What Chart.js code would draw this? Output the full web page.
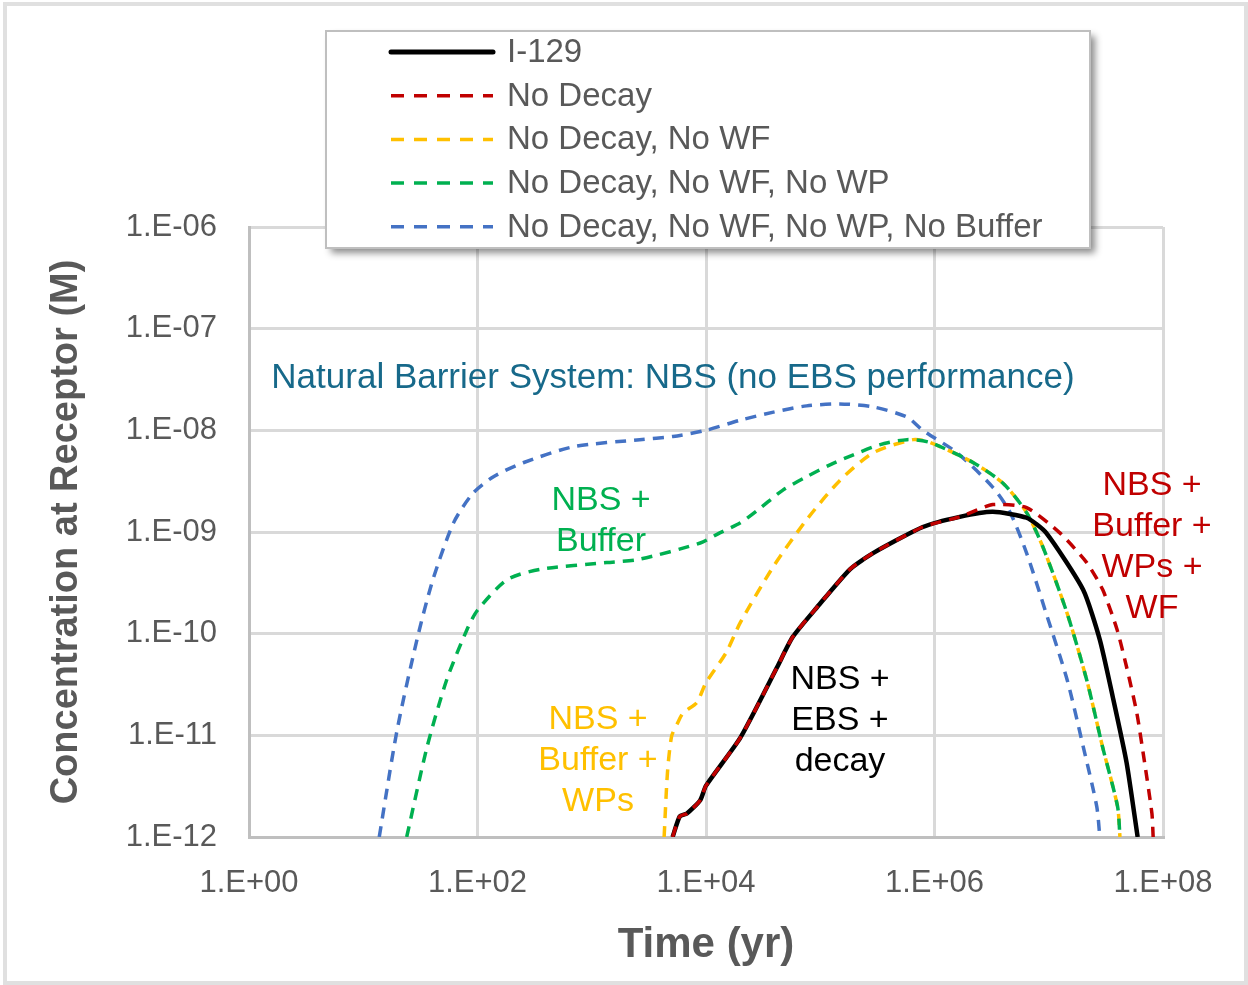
<!DOCTYPE html>
<html lang="en">
<head>
    <meta charset="UTF-8">
    <title>I-129 Concentration at Receptor</title>
    <style>
        * { margin: 0; padding: 0; box-sizing: border-box; }
        body { background: white; width: 1248px; height: 985px; overflow: hidden; }
        .frame { position: absolute; left: 3px; top: 2px; width: 1245px; height: 983px; border: 4px solid #e0e0e0; pointer-events: none; }
        #chart { position: absolute; left: 0; top: 0; }
    </style>
    <script src="https://cdn.jsdelivr.net/npm/chart.js"></script>
</head>
<body>
    <canvas id="chart" width="1248" height="985"></canvas>
    <div class="frame"></div>
    <script>
        // time (yr) and concentration (M)
        const timeI129 = [5100, 5900, 6800, 8900, 1e4, 2.0e4, 4.2e4, 5.75e4, 9.3e4, 1.82e5, 2.9e5, 7.9e5, 1.66e6, 3.24e6, 6.4e6, 9.5e6, 2.0e7, 2.8e7, 3.63e7, 4.8e7, 6.0e7];
        const concI129 = [1e-12, 1.6e-12, 1.7e-12, 2.3e-12, 3.2e-12, 9.5e-12, 4.7e-11, 9.3e-11, 1.8e-10, 4.3e-10, 6.2e-10, 1.12e-9, 1.41e-9, 1.58e-9, 1.38e-9, 9.8e-10, 2.7e-10, 8.7e-11, 2.4e-11, 5.4e-12, 1e-12];

        const timeNoDecay = [5100, 5900, 6800, 8900, 1e4, 2.0e4, 4.2e4, 5.75e4, 9.3e4, 1.82e5, 2.9e5, 7.9e5, 1.66e6, 3.24e6, 6.4e6, 1.25e7, 2.15e7, 2.97e7, 3.96e7, 4.8e7, 5.9e7, 6.9e7, 8.0e7, 8.2e7];
        const concNoDecay = [1e-12, 1.6e-12, 1.7e-12, 2.3e-12, 3.2e-12, 9.5e-12, 4.7e-11, 9.3e-11, 1.8e-10, 4.3e-10, 6.2e-10, 1.12e-9, 1.41e-9, 1.86e-9, 1.74e-9, 9.8e-10, 5.0e-10, 2.7e-10, 1.1e-10, 4.7e-11, 1.66e-11, 5.4e-12, 1.7e-12, 1e-12];

        const timeNoWF = [4300, 4600, 5000, 5600, 6300, 8300, 1e4, 1.5e4, 2.0e4, 3.9e4, 7.6e4, 1.48e5, 2.9e5, 6.5e5, 9.1e5, 2.19e6, 4.0e6, 6.4e6, 8.9e6, 1.45e7, 2.15e7, 2.95e7, 4.0e7, 4.2e7];
        const concNoWF = [1e-12, 4.3e-12, 9.8e-12, 1.3e-11, 1.66e-11, 2.1e-11, 3.3e-11, 6.5e-11, 1.29e-10, 4.6e-10, 1.32e-9, 3.2e-9, 6.0e-9, 8.1e-9, 7.6e-9, 4.8e-9, 3.0e-9, 1.55e-9, 7.1e-10, 1.58e-10, 3.5e-11, 7.8e-12, 2e-12, 1e-12];

        const timeNoWP = [24, 36.3, 53.7, 81, 100, 182, 355, 1350, 2630, 8900, 1.32e4, 2.0e4, 2.95e4, 4.68e4, 7.6e4, 1.23e5, 1.95e5, 3.3e5, 5.75e5, 9.1e5, 2.19e6, 4.0e6, 6.4e6, 8.9e6, 1.45e7, 2.15e7, 2.95e7, 4.0e7, 4.2e7];
        const concNoWP = [1e-12, 7.8e-12, 3.5e-11, 1.1e-10, 1.7e-10, 3.4e-10, 4.3e-10, 5.0e-10, 5.4e-10, 7.8e-10, 9.8e-10, 1.23e-9, 1.7e-9, 2.57e-9, 3.5e-9, 4.6e-9, 5.75e-9, 7.2e-9, 8.1e-9, 7.6e-9, 4.8e-9, 3.0e-9, 1.55e-9, 7.1e-10, 1.58e-10, 3.5e-11, 7.8e-12, 2e-12, 1e-12];

        const timeNoBuffer = [13.8, 19.7, 29.5, 40.7, 61.7, 91, 138, 251, 692, 2630, 5130, 1e4, 2.0e4, 3.9e4, 7.6e4, 1.48e5, 2.9e5, 5.75e5, 7.9e5, 1.58e6, 3.24e6, 4.6e6, 6.4e6, 9.5e6, 1.45e7, 2.0e7, 2.63e7, 2.8e7];
        const concNoBuffer = [1e-12, 1.1e-11, 8.7e-11, 3.4e-10, 1.23e-9, 2.4e-9, 3.5e-9, 4.8e-9, 6.9e-9, 8.1e-9, 8.7e-9, 1.0e-8, 1.26e-8, 1.51e-8, 1.74e-8, 1.82e-8, 1.7e-8, 1.35e-8, 1.0e-8, 6.0e-9, 2.75e-9, 1.55e-9, 6.2e-10, 1.58e-10, 3.5e-11, 7.8e-12, 2e-12, 1e-12];

        const seriesLabels = ['I-129', 'No Decay', 'No Decay, No WF', 'No Decay, No WF, No WP', 'No Decay, No WF, No WP, No Buffer'];
        const xTickValues = [1, 1e2, 1e4, 1e6, 1e8];
        const xTickLabels = ['1.E+00', '1.E+02', '1.E+04', '1.E+06', '1.E+08'];
        const yTickValues = [1e-12, 1e-11, 1e-10, 1e-9, 1e-8, 1e-7, 1e-6];
        const yTickLabels = ['1.E-12', '1.E-11', '1.E-10', '1.E-09', '1.E-08', '1.E-07', '1.E-06'];

        const colors = ['#000000', '#C00000', '#FFC000', '#00B050', '#4472C4'];
        const dash = [11, 8];

        function pts(t, c) { return t.map((v, i) => ({ x: v, y: c[i] })); }

        const textFont = "'Liberation Sans', Arial, sans-serif";

        // text notes on the plot (canvas pixels)
        const notes = [
            { lines: ['Natural Barrier System: NBS (no EBS performance)'], color: '#17698A', x: 673, y: 378, size: 35 },
            { lines: ['NBS +', 'Buffer'], color: '#00B050', x: 601, y: 501, size: 34 },
            { lines: ['NBS +', 'Buffer +', 'WPs'], color: '#FFC000', x: 598, y: 720, size: 34 },
            { lines: ['NBS +', 'EBS +', 'decay'], color: '#000000', x: 840, y: 680, size: 34 },
            { lines: ['NBS +', 'Buffer +', 'WPs +', 'WF'], color: '#C00000', x: 1152, y: 486, size: 34 }
        ];

        const notesPlugin = {
            id: 'notes',
            afterDatasetsDraw(chart) {
                const ctx = chart.ctx;
                ctx.save();
                ctx.textAlign = 'center';
                ctx.textBaseline = 'middle';
                notes.forEach(n => {
                    ctx.font = n.size + 'px ' + textFont;
                    ctx.fillStyle = n.color;
                    n.lines.forEach((l, i) => ctx.fillText(l, n.x, n.y + i * 41));
                });
                ctx.restore();
            }
        };

        const legendPlugin = {
            id: 'boxLegend',
            afterDraw(chart) {
                const ctx = chart.ctx;
                const bx = 326, by = 31, bw = 764, bh = 217;
                ctx.save();
                ctx.shadowColor = 'rgba(0,0,0,0.45)';
                ctx.shadowBlur = 7;
                ctx.shadowOffsetX = 5;
                ctx.shadowOffsetY = 5;
                ctx.fillStyle = 'white';
                ctx.fillRect(bx, by, bw, bh);
                ctx.restore();
                ctx.save();
                ctx.strokeStyle = '#bfbfbf';
                ctx.lineWidth = 2;
                ctx.strokeRect(bx, by, bw, bh);
                ctx.font = '33px ' + textFont;
                ctx.textBaseline = 'middle';
                chart.data.datasets.forEach((ds, i) => {
                    const y = 52 + i * 43.7;
                    ctx.beginPath();
                    ctx.strokeStyle = ds.borderColor;
                    ctx.lineWidth = i === 0 ? 5 : 3.5;
                    ctx.setLineDash(i === 0 ? [] : [13, 10]);
                    ctx.lineCap = i === 0 ? 'round' : 'butt';
                    ctx.moveTo(391, y);
                    ctx.lineTo(493, y);
                    ctx.stroke();
                    ctx.setLineDash([]);
                    ctx.fillStyle = '#595959';
                    ctx.fillText(ds.label, 507, y + 1);
                });
                ctx.restore();
            }
        };

        new Chart(document.getElementById('chart'), {
            type: 'line',
            data: {
                datasets: [
                    { label: seriesLabels[0], data: pts(timeI129, concI129), borderColor: colors[0], borderWidth: 4.5, tension: 0.2, order: 1 },
                    { label: seriesLabels[1], data: pts(timeNoDecay, concNoDecay), borderColor: colors[1], borderWidth: 3.5, borderDash: dash, tension: 0.2, order: 0 },
                    { label: seriesLabels[2], data: pts(timeNoWF, concNoWF), borderColor: colors[2], borderWidth: 3.5, borderDash: dash, tension: 0.25, order: 3 },
                    { label: seriesLabels[3], data: pts(timeNoWP, concNoWP), borderColor: colors[3], borderWidth: 3.5, borderDash: dash, tension: 0.25, order: 2 },
                    { label: seriesLabels[4], data: pts(timeNoBuffer, concNoBuffer), borderColor: colors[4], borderWidth: 3.5, borderDash: dash, tension: 0.25, order: 4 }
                ]
            },
            options: {
                responsive: false,
                animation: false,
                elements: { point: { radius: 0 } },
                layout: { padding: { left: 0, top: 227, right: 85, bottom: 0 } },
                plugins: { legend: { display: false }, tooltip: { enabled: false } },
                scales: {
                    x: {
                        type: 'logarithmic',
                        min: 1, max: 1e8,
                        afterBuildTicks: axis => { axis.ticks = xTickValues.map(v => ({ value: v })); },
                        afterFit: axis => { axis.height = 148; },
                        ticks: {
                            autoSkip: false, maxRotation: 0, padding: 28,
                            color: '#595959', font: { family: textFont, size: 31 },
                            callback: (v, i) => xTickLabels[i]
                        },
                        grid: { color: '#d9d9d9', lineWidth: 3, drawTicks: false },
                        border: { color: '#bfbfbf', width: 3 },
                        title: {
                            display: true, text: 'Time (yr)', color: '#595959',
                            font: { family: textFont, size: 42, weight: 'bold' },
                            padding: { bottom: 14 }
                        }
                    },
                    y: {
                        type: 'logarithmic',
                        min: 1e-12, max: 1e-6,
                        afterBuildTicks: axis => { axis.ticks = yTickValues.map(v => ({ value: v })); },
                        afterFit: axis => { axis.width = 249; },
                        ticks: {
                            autoSkip: false, padding: 32,
                            color: '#595959', font: { family: textFont, size: 31 },
                            callback: (v, i) => yTickLabels[i]
                        },
                        grid: { color: '#d9d9d9', lineWidth: 3, drawTicks: false },
                        border: { color: '#bfbfbf', width: 3 },
                        title: {
                            display: true, text: 'Concentration at Receptor (M)', color: '#595959',
                            font: { family: textFont, size: 38, weight: 'bold' },
                            padding: { top: 44 }
                        }
                    }
                }
            },
            plugins: [notesPlugin, legendPlugin]
        });
    </script>
</body>
</html>
